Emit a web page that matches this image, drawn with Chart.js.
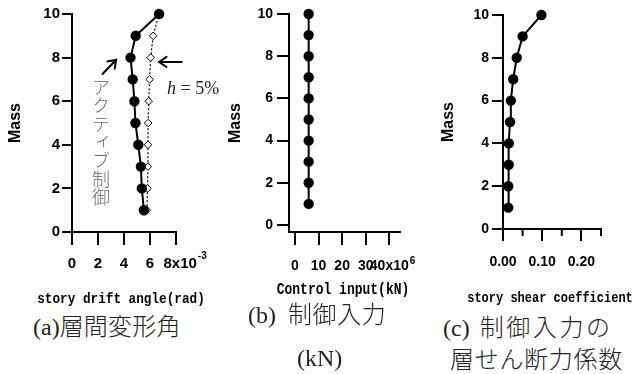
<!DOCTYPE html>
<html><head><meta charset="utf-8">
<script src="https://cdn.jsdelivr.net/npm/chart.js@4/dist/chart.umd.min.js"></script>
<style>
body{margin:0;width:635px;height:374px;background:#fff;position:relative;overflow:hidden}
canvas{position:absolute;top:0}
.cap{position:absolute;font-family:"Liberation Serif","Noto Sans CJK JP";font-size:24px;font-weight:300;color:#222;white-space:nowrap;line-height:1}
.vt{position:absolute;writing-mode:vertical-rl;font-family:"Noto Sans CJK JP";font-weight:300;font-size:18px;line-height:18px;color:#666;letter-spacing:0.4px}
.hl{position:absolute;font-family:"Liberation Serif";font-size:18px;color:#222;white-space:nowrap;line-height:1}
.xt{position:absolute;font-family:"Liberation Mono";font-weight:bold;color:#000;white-space:nowrap;line-height:1;transform:translate(-50%,-50%) scaleY(1.2)}
</style></head><body>
<canvas id="ca" width="215" height="310" style="left:0px"></canvas>
<canvas id="cb" width="210" height="310" style="left:215px"></canvas>
<canvas id="cc" width="210" height="310" style="left:425px"></canvas>

<div class="vt" style="left:92px;top:78px">アクティブ制御</div>
<div class="hl" style="left:167px;top:79px"><i>h</i> = 5%</div>

<div class="xt" style="left:121px;top:300px;font-size:12.7px">story drift angle(rad)</div>
<div class="xt" style="left:343px;top:290px;font-size:13px">Control input(kN)</div>
<div class="xt" style="left:550px;top:298px;font-size:12px">story shear coefficient</div>

<div class="cap" style="left:33px;top:315px">(a)<span style="letter-spacing:0.2px">層間変形角</span></div>
<div class="cap" style="left:248px;top:303px">(b) <span style="margin-left:6px;letter-spacing:0.6px">制御入力</span></div>
<div class="cap" style="left:297px;top:346px">(kN)</div>
<div class="cap" style="left:443px;top:316px">(c) <span style="margin-left:4px;letter-spacing:2.6px">制御入力の</span></div>
<div class="cap" style="left:450px;top:348px;letter-spacing:0.7px">層せん断力係数</div>

<script>
// ---- data ----
const massLevels   = [1, 2, 3, 4, 5, 6, 7, 8, 9, 10];
const driftActive  = [5.53, 5.37, 5.30, 5.10, 4.88, 4.80, 4.67, 4.50, 4.90, 6.70];
const driftPassive = [5.76, 5.81, 5.84, 5.84, 5.86, 5.90, 5.97, 6.05, 6.24, 6.70];
const controlInput = [5.8, 5.8, 5.8, 5.8, 5.8, 5.8, 5.8, 5.8, 5.8, 5.8];
const shearCoef    = [0.0135, 0.0135, 0.0145, 0.015, 0.018, 0.020, 0.026, 0.035, 0.050, 0.098];

const massTicks   = [0, 2, 4, 6, 8, 10];
const driftTicks  = [0, 2, 4, 6, 8];
const driftLabels = ['0', '2', '4', '6', '  8x10'];
const inputTicks  = [0, 10, 20, 30, 40];
const inputLabels = ['0', '10', '20', '30', '40x10'];
const shearTicks  = [0, 0.10, 0.20];
const shearLabels = ['0.00', '0.10', '0.20'];
const shearMinor  = [0.05, 0.15, 0.25];

const pts = (xs) => xs.map((x, i) => ({x: x, y: massLevels[i]}));

const TICKFONT_A = {family: 'Liberation Sans', weight: 'bold', size: 15};
const TICKFONT_N = {family: 'Liberation Sans', weight: 'bold', size: 14};
const MASSFONT = {family: 'Liberation Sans', weight: 'bold', size: 16};

function fontStr(f){ return f.weight + ' ' + f.size + 'px ' + f.family; }

function xScale(o) {
  return {
    type: 'linear', position: 'bottom', min: o.min, max: o.max,
    afterBuildTicks: s => { s.ticks = o.ticks.map(v => ({value: v})); },
    afterFit: s => { s.height = o.height; },
    ticks: {
      font: o.font, color: '#000', padding: o.pad, maxRotation: 0, minRotation: 0, autoSkip: false,
      callback: (v, i) => o.labels[i]
    },
    grid: {drawOnChartArea: false, color: '#000', lineWidth: 2, tickLength: o.tickLen, tickWidth: 2, tickColor: '#000'},
    border: {color: '#000', width: 2},
    title: {display: false}
  };
}
function yScale(o) {
  return {
    type: 'linear', position: 'left', min: o.min, max: 10,
    afterBuildTicks: s => { s.ticks = massTicks.map(v => ({value: v})); },
    afterFit: s => { s.width = o.width; },
    ticks: {font: o.font, color: '#000', padding: o.pad, callback: v => String(v)},
    grid: {drawOnChartArea: false, color: '#000', lineWidth: 2, tickLength: o.tickLen, tickWidth: 2, tickColor: '#000'},
    border: {color: '#000', width: 2},
    title: {display: true, text: 'Mass', font: MASSFONT, color: '#000', padding: {top: o.titlePad, bottom: 0}}
  };
}

function supPlugin(sup, tickFont, dx, dy) {
  return {
    id: 'sup',
    afterDraw(chart) {
      const sc = chart.scales.x, ctx = chart.ctx;
      const i = sc.ticks.length - 1;
      const px = sc.getPixelForValue(sc.ticks[i].value);
      ctx.save();
      ctx.font = fontStr(tickFont);
      const w = ctx.measureText(String(sc.ticks[i].label)).width;
      ctx.font = 'bold 10px Liberation Sans';
      ctx.fillStyle = '#000';
      ctx.textBaseline = 'middle';
      ctx.textAlign = 'left';
      ctx.fillText(sup, px + w / 2 + dx, sc.top + dy);
      ctx.restore();
    }
  };
}

const arrowPlugin = {
  id: 'arrows',
  afterDraw(chart) {
    const xs = chart.scales.x, ys = chart.scales.y, ctx = chart.ctx;
    const P = (x, y) => [xs.getPixelForValue(x), ys.getPixelForValue(y)];
    function arrow(tail, tip) {
      const [x0, y0] = P(tail[0], tail[1]);
      const [x1, y1] = P(tip[0], tip[1]);
      const a = Math.atan2(y1 - y0, x1 - x0), L = 9, s = 0.6;
      ctx.beginPath();
      ctx.moveTo(x0, y0); ctx.lineTo(x1, y1);
      ctx.moveTo(x1 - L * Math.cos(a - s), y1 - L * Math.sin(a - s));
      ctx.lineTo(x1, y1);
      ctx.lineTo(x1 - L * Math.cos(a + s), y1 - L * Math.sin(a + s));
      ctx.stroke();
    }
    ctx.save();
    ctx.strokeStyle = '#000'; ctx.lineWidth = 2; ctx.lineCap = 'round'; ctx.lineJoin = 'miter';
    arrow([2.35, 7.25], [3.4, 7.9]);
    arrow([8.45, 7.8], [6.7, 7.8]);
    ctx.restore();
  }
};

const minorPlugin = {
  id: 'minor',
  afterDraw(chart) {
    const sc = chart.scales.x, ctx = chart.ctx;
    ctx.save(); ctx.strokeStyle = '#000'; ctx.lineWidth = 2;
    shearMinor.forEach(v => {
      const px = sc.getPixelForValue(v);
      ctx.beginPath(); ctx.moveTo(px, sc.top); ctx.lineTo(px, sc.top + 7); ctx.stroke();
    });
    ctx.restore();
  }
};

const common = {
  responsive: false, animation: false, devicePixelRatio: 1,
  plugins: {legend: {display: false}, tooltip: {enabled: false}}
};

const filled = (data, w) => ({data: data, showLine: true, borderColor: '#000', borderWidth: w,
  pointStyle: 'circle', pointRadius: 4.2, pointBackgroundColor: '#000', pointBorderColor: '#000', clip: false});

// Panel (a)
new Chart(document.getElementById('ca'), {
  type: 'scatter',
  data: {datasets: [
    filled(pts(driftActive), 2),
    {data: pts(driftPassive), showLine: true, borderColor: '#000', borderWidth: 1.2, borderDash: [2, 2],
     pointStyle: 'rectRot', pointRadius: 3.8, pointBackgroundColor: '#fff', pointBorderColor: '#000', pointBorderWidth: 1, clip: false}
  ]},
  options: Object.assign({}, common, {
    layout: {padding: {top: 14, right: 39, left: 0, bottom: 0}},
    scales: {
      x: xScale({min: 0, max: 8, ticks: driftTicks, labels: driftLabels, height: 78, font: TICKFONT_A, pad: 10, tickLen: 13}),
      y: yScale({min: 0, width: 72, font: TICKFONT_A, pad: 2, tickLen: 10, titlePad: 6})
    }
  }),
  plugins: [supPlugin('-3', TICKFONT_A, 1, 24), arrowPlugin]
});

// Panel (b)
new Chart(document.getElementById('cb'), {
  type: 'scatter',
  data: {datasets: [filled(pts(controlInput), 2)]},
  options: Object.assign({}, common, {
    layout: {padding: {top: 14, right: 25, left: 0, bottom: 0}},
    scales: {
      x: xScale({min: -2.545, max: 44.54, ticks: inputTicks, labels: inputLabels, height: 78, font: TICKFONT_N, pad: 13, tickLen: 13}),
      y: yScale({min: -0.332, width: 74, font: TICKFONT_N, pad: 4, tickLen: 12, titlePad: 11})
    }
  }),
  plugins: [supPlugin('6', TICKFONT_N, 1, 29)]
});

// Panel (c)
new Chart(document.getElementById('cc'), {
  type: 'scatter',
  data: {datasets: [filled(pts(shearCoef), 2)]},
  options: Object.assign({}, common, {
    layout: {padding: {top: 15, right: 34, left: 0, bottom: 0}},
    scales: {
      x: xScale({min: 0, max: 0.25, ticks: shearTicks, labels: shearLabels, height: 81, font: TICKFONT_N, pad: 13, tickLen: 12}),
      y: yScale({min: 0, width: 78, font: TICKFONT_N, pad: 3, tickLen: 11, titlePad: 13.7})
    }
  }),
  plugins: [minorPlugin]
});
</script>
</body></html>
